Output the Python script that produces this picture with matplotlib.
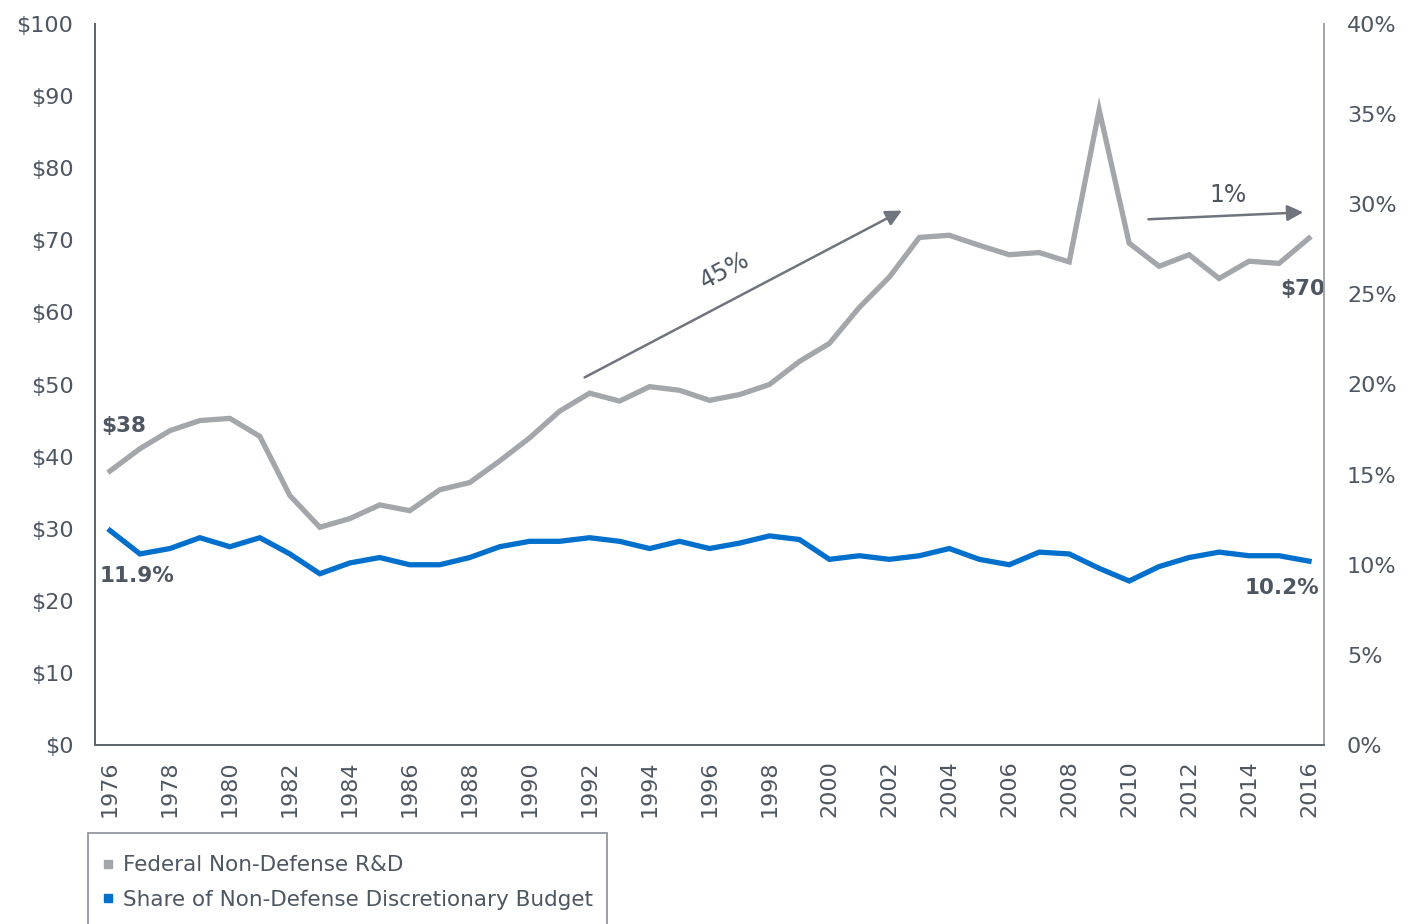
import matplotlib

matplotlib.use("Agg")
import matplotlib.pyplot as plt
from matplotlib.lines import Line2D
from matplotlib.patches import Rectangle

YEARS = list(range(1976, 2017))
RD_SPENDING = [
    38.0, 41.1, 43.6, 45.0, 45.3, 42.8, 34.6, 30.2, 31.4, 33.3,
    32.5, 35.4, 36.4, 39.4, 42.6, 46.3, 48.8, 47.7, 49.7, 49.2,
    47.8, 48.6, 50.0, 53.2, 55.7, 60.7, 64.9, 70.4, 70.7, 69.3,
    68.0, 68.3, 67.0, 88.1, 69.6, 66.4, 68.0, 64.7, 67.1, 66.8,
    70.3,
]
BUDGET_SHARE = [
    11.9, 10.6, 10.9, 11.5, 11.0, 11.5, 10.6, 9.5, 10.1, 10.4,
    10.0, 10.0, 10.4, 11.0, 11.3, 11.3, 11.5, 11.3, 10.9, 11.3,
    10.9, 11.2, 11.6, 11.4, 10.3, 10.5, 10.3, 10.5, 10.9, 10.3,
    10.0, 10.7, 10.6, 9.8, 9.1, 9.9, 10.4, 10.7, 10.5, 10.5,
    10.2,
]
SERIES_LABELS = ["Federal Non-Defense R&D", "Share of Non-Defense Discretionary Budget"]

GRAY = "#a3a6aa"
BLUE = "#0070cc"
TEXT = "#4d5661"
ARROW = "#70757d"

plt.rcParams["font.family"] = ["DejaVu Sans"]

W, H = 1419, 924
fig = plt.figure(figsize=(W / 100, H / 100), dpi=100)
ax = fig.add_axes([95 / W, 1 - 745 / H, (1324 - 95) / W, (745 - 24) / H])
ax2 = ax.twinx()

x = list(range(len(YEARS)))
ax.plot(x, RD_SPENDING, color=GRAY, lw=3.8, solid_joinstyle="miter", zorder=3)
ax2.plot(x, BUDGET_SHARE, color=BLUE, lw=3.8, solid_joinstyle="miter", zorder=3)

ax.set_xlim(-0.5, len(YEARS) - 0.5)
ax.set_ylim(0, 100)
ax2.set_ylim(0, 40)

ax.set_yticks(range(0, 101, 10))
ax.set_yticklabels([f"${v}" for v in range(0, 101, 10)])
ax2.set_yticks(range(0, 41, 5))
ax2.set_yticklabels([f"{v}%" for v in range(0, 41, 5)])
ax.set_xticks(x[::2])
ax.set_xticklabels([str(y) for y in YEARS[::2]], rotation=90)

ax.tick_params(axis="y", length=0, pad=15.5, labelsize=16, labelcolor=TEXT)
ax.tick_params(axis="x", length=0, pad=11, labelsize=16, labelcolor=TEXT)
ax2.tick_params(axis="y", length=0, pad=16.5, labelsize=16, labelcolor=TEXT)

for a in (ax, ax2):
    a.spines["top"].set_visible(False)
    a.spines["left"].set_color("#5f6670")
    a.spines["bottom"].set_color("#5f6670")
    a.spines["right"].set_color(GRAY)
    for side in ("left", "bottom", "right"):
        a.spines[side].set_linewidth(1.3)

# endpoint labels
ax.text(0.45, 44.3, "$38", ha="center", va="center", fontsize=15.5, fontweight="bold", color=TEXT)
ax.text(0.9, 23.5, "11.9%", ha="center", va="center", fontsize=15.5, fontweight="bold", color=TEXT)
ax.text(39.8, 63.3, "$70", ha="center", va="center", fontsize=15.5, fontweight="bold", color=TEXT)
ax.text(39.1, 21.8, "10.2%", ha="center", va="center", fontsize=15.5, fontweight="bold", color=TEXT)

# growth arrows
ax.annotate("", xy=(26.5, 74.3), xytext=(15.75, 50.8),
            arrowprops=dict(arrowstyle="-|>", color=ARROW, lw=1.8, mutation_scale=24))
ax.text(20.5, 65.8, "45%", ha="center", va="center", rotation=28, fontsize=17, color=TEXT)
ax.annotate("", xy=(39.9, 73.9), xytext=(34.55, 72.9),
            arrowprops=dict(arrowstyle="-|>", color=ARROW, lw=1.8, mutation_scale=24))
ax.text(37.3, 76.3, "1%", ha="center", va="center", fontsize=17, color=TEXT)

# legend box runs off the bottom edge
fig.patches.append(Rectangle((88 / W, 1 - 940 / H), (607 - 88) / W, (940 - 833) / H,
                             transform=fig.transFigure, fill=False, edgecolor="#8a8f96", lw=1.2))
handles = [
    Line2D([], [], ls="none", marker="s", markersize=6, color=GRAY),
    Line2D([], [], ls="none", marker="s", markersize=6, color=BLUE),
]
leg = fig.legend(handles, SERIES_LABELS, loc="center left", bbox_to_anchor=(101.5 / W, 1 - 882.5 / H),
                 fontsize=15.5, frameon=False, handlelength=0.6, handletextpad=0.4,
                 borderpad=0, labelspacing=0.68, borderaxespad=0)
for t in leg.get_texts():
    t.set_color(TEXT)

fig.savefig("out.png", dpi=100)
